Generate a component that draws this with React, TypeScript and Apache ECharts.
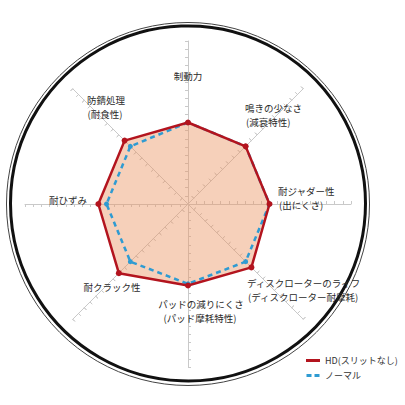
import { useEffect, useRef } from 'react'
import * as echarts from 'echarts'

// axes, counter-clockwise from the top (ECharts radar order)
const categories = [
  '制動力',
  '防錆処理',
  '耐ひずみ',
  '耐クラック性',
  'パッドの減りにくさ',
  'ディスクローターのライフ',
  '耐ジャダー性',
  '鳴きの少なさ',
]
const subLabels = ['', '(耐食性)', '', '', '(パッド摩耗特性)', '(ディスクローター耐摩耗)', '(出にくさ)', '(減衰特性)']
const hdValues = [10, 11, 11, 12, 10, 11, 10, 10]
const normalValues = [10, 10, 10, 10, 9.8, 10, 10, 10]
const seriesNames = ['HD(スリットなし)', 'ノーマル']
const axisMax = 20

// label placement (x, y of first line middle, align) for each axis name
const labelLayout: [number, number, 'left' | 'center'][] = [
  [188, 76, 'center'],
  [106, 99.5, 'center'],
  [68, 200, 'center'],
  [112, 287, 'center'],
  [201, 303.5, 'center'],
  [247, 282.5, 'left'],
  [278, 190.5, 'left'],
  [245, 107.5, 'left'],
]

const FONT = '"Noto Sans CJK JP", "Noto Sans", sans-serif'
const RED = '#b3141e'
const BLUE = '#2f9bd2'

const App: React.FC = () => {
  const chartRef = useRef<HTMLDivElement>(null)

  useEffect(() => {
    if (!chartRef.current) return
    const chart = echarts.init(chartRef.current, undefined, { renderer: 'svg' })

    const indicator = categories.map((name) => ({ name, min: 0, max: axisMax }))
    const radarBase = {
      center: [188, 204],
      radius: 163,
      startAngle: 90,
      splitNumber: axisMax,
      indicator,
      axisName: { show: false },
      splitLine: { show: false },
      splitArea: { show: false },
    }

    const textStyle = (text: string, align: string) => ({
      text,
      x: 0,
      y: 0,
      align,
      verticalAlign: 'middle',
      fontSize: 9.5,
      fontFamily: FONT,
      fill: '#2a2a2a',
    })

    const labels: any[] = []
    categories.forEach((name, i) => {
      const [x, y, align] = labelLayout[i]
      labels.push({ type: 'text', x, y, z: 10, style: textStyle(name, align) })
      if (subLabels[i]) {
        labels.push({ type: 'text', x: align === 'left' ? x + 1 : x - 1, y: y + 14, z: 10, style: textStyle(subLabels[i], align) })
      }
    })

    const option = {
      animation: false,
      backgroundColor: '#ffffff',
      legend: {
        orient: 'vertical',
        left: 306,
        top: 356,
        padding: 0,
        itemWidth: 14,
        itemHeight: 3,
        itemGap: 6,
        selectedMode: false,
        textStyle: { fontSize: 9, color: '#333', fontFamily: FONT },
        data: [
          { name: seriesNames[0], icon: 'rect', itemStyle: { color: RED } },
          { name: seriesNames[1], icon: 'path://M0,0h5v3h-5z M8,0h5v3h-5z', itemStyle: { color: BLUE } },
        ],
      },
      radar: [
        {
          ...radarBase,
          axisLine: { show: true, lineStyle: { color: '#c9c9c9', width: 1 } },
          axisTick: { show: true, length: 3, lineStyle: { color: '#c9c9c9', width: 1 } },
        },
        {
          ...radarBase,
          axisLine: { show: false },
          axisTick: { show: true, inside: true, length: 3, lineStyle: { color: '#c9c9c9', width: 1 } },
        },
      ],
      graphic: [
        {
          type: 'circle',
          shape: { cx: 188, cy: 204, r: 181.5 },
          style: { fill: 'none', stroke: '#444', lineWidth: 1 },
        },
        {
          type: 'circle',
          shape: { cx: 188, cy: 203.5, r: 177.5 },
          style: { fill: 'none', stroke: '#111', lineWidth: 3 },
        },
        ...labels,
      ],
      series: [
        {
          type: 'radar',
          radarIndex: 0,
          z: 1,
          silent: true,
          data: [
            {
              name: seriesNames[0],
              value: hdValues,
              symbol: 'none',
              lineStyle: { width: 0, opacity: 0 },
              areaStyle: { color: '#ec9666', opacity: 0.45 },
            },
          ],
        },
        {
          type: 'radar',
          radarIndex: 0,
          z: 2,
          data: [
            {
              name: seriesNames[1],
              value: normalValues,
              symbol: 'circle',
              symbolSize: 5,
              itemStyle: { color: BLUE },
              lineStyle: { color: BLUE, width: 2.5, type: [5, 4] },
            },
          ],
        },
        {
          type: 'radar',
          radarIndex: 0,
          z: 3,
          data: [
            {
              name: seriesNames[0],
              value: hdValues,
              symbol: 'circle',
              symbolSize: 6,
              itemStyle: { color: RED },
              lineStyle: { color: RED, width: 2.5 },
            },
          ],
        },
      ],
    }

    chart.setOption(option)
    return () => chart.dispose()
  }, [])

  return (
    <div
      ref={chartRef}
      style={{ position: 'absolute', left: 0, top: 0, width: 405, height: 405 }}
    />
  )
}

export default App
